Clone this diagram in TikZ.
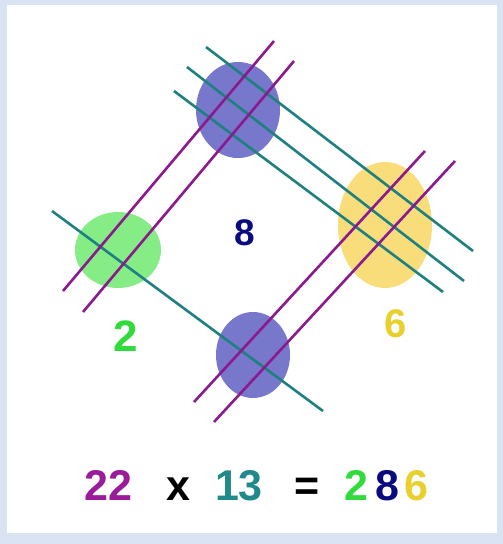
\documentclass[tikz,border=0pt]{standalone}
\usepackage{fontspec}
\setmainfont{Liberation Sans}
\definecolor{frameblue}{HTML}{D9E3F3}
\definecolor{stickpurple}{HTML}{8A1A8E}
\definecolor{stickteal}{HTML}{1F8080}
\definecolor{dotgreen}{HTML}{86EC86}
\definecolor{dotblue}{HTML}{7777CC}
\definecolor{dotyellow}{HTML}{F9DD7B}
\definecolor{numgreen}{HTML}{2FDC3C}
\definecolor{numnavy}{HTML}{0B0B80}
\definecolor{numyellow}{HTML}{E9D02F}
\definecolor{numpurple}{HTML}{9A1C9A}
\definecolor{numteal}{HTML}{208A8A}
\begin{document}
\begin{tikzpicture}[x=1pt,y=-1pt,
  purpleline/.style={stickpurple,line width=2.6pt},
  tealline/.style={stickteal,line width=2.6pt},
  digit/.style={inner sep=0pt,anchor=base,font=\bfseries\fontsize{#1}{#1}\selectfont}]

% Frame
\fill[frameblue] (0,0) rectangle (503,544);
\fill[white] (7,5) rectangle (497,533);
\useasboundingbox (0,0) rectangle (503,544);

% Crossing dots
\fill[dotgreen] (118,250) ellipse [x radius=43, y radius=38];
\fill[dotblue] (238,110) ellipse [x radius=42, y radius=48];
\fill[dotyellow] (385,225) ellipse [x radius=47, y radius=63];
\fill[dotblue] (253,355) ellipse [x radius=37, y radius=43];

% 13: teal sticks
\draw[tealline] (52,211) -- (323,411);
\draw[tealline] (206,47) -- (473,251);
\draw[tealline] (187,67) -- (464,281);
\draw[tealline] (174,91) -- (443,292);

% 22: purple sticks
\draw[purpleline] (63,291) -- (274,41);
\draw[purpleline] (83,312) -- (294,61);
\draw[purpleline] (194,402) -- (425,151);
\draw[purpleline] (214,422) -- (455,161);

% Counts
\node[digit=44,numgreen] (hundreds) at (126,351) {2};
\node[digit=37,numnavy] (tens) at (245,245) {8};
\node[digit=40,numyellow] (units) at (396,337) {6};

% Result
\node[digit=43,numpurple] (lhs) at (108.5,500) {22};
\node[digit=43] (times) at (178.5,500) {x};
\node[digit=43,numteal] (rhs) at (239,500) {13};
\node[digit=43] (equals) at (307.5,500) {=};
\node[digit=43,numgreen] (resa) at (356,500) {2};
\node[digit=43,numnavy] (resb) at (387.5,500) {8};
\node[digit=43,numyellow] (resc) at (416.5,500) {6};

\end{tikzpicture}
\end{document}
